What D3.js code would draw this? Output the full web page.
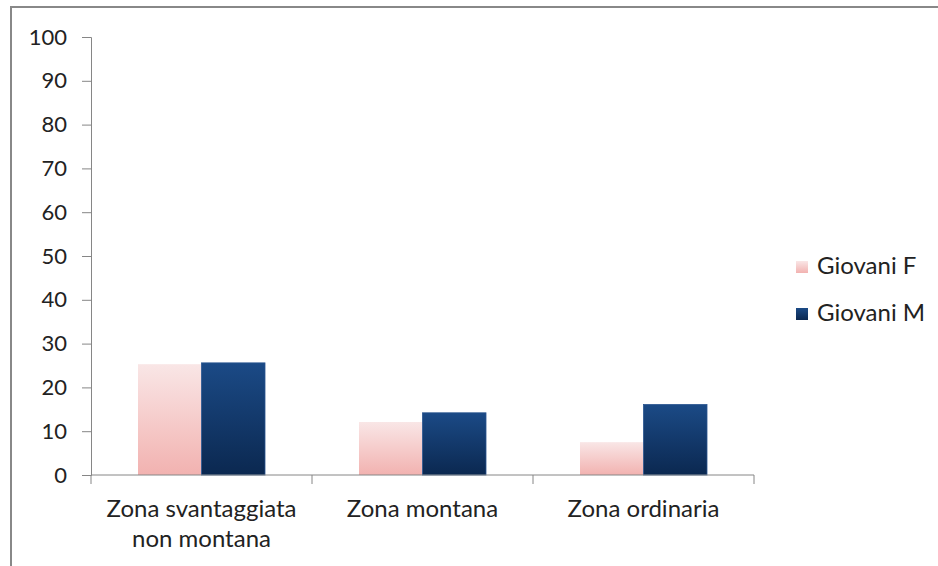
<!DOCTYPE html>
<meta charset="utf-8">
<script src="https://d3js.org/d3.v7.min.js"></script>
<style>
  body { margin: 0; background: #fff; }
  text { font-family: Lato, "Open Sans", sans-serif; fill: #222; }
</style>
<div id="chart"></div>
<script>
  // data
  const categories = [["Zona svantaggiata", "non montana"], ["Zona montana"], ["Zona ordinaria"]];
  const seriesNames = ["Giovani F", "Giovani M"];
  const giovaniF = [25.3, 12.1, 7.5];
  const giovaniM = [25.6, 14.2, 16.1];
  const yTicks = [0, 10, 20, 30, 40, 50, 60, 70, 80, 90, 100];

  const W = 938, H = 566;
  const plot = {left: 91, right: 754, top: 37, bottom: 475};

  const svg = d3.select("#chart").append("svg")
      .attr("width", W).attr("height", H);

  // outer chart frame
  svg.append("rect")
      .attr("x", 11).attr("y", 7)
      .attr("width", W + 10).attr("height", H + 10)
      .attr("fill", "none").attr("stroke", "#888").attr("stroke-width", 2);

  // gradients, one per series
  const defs = svg.append("defs");
  const grads = [
    {id: "gF", top: "#f9e6e6", bottom: "#f2b2b0"},
    {id: "gM", top: "#1b4a86", bottom: "#0b2850"}
  ];
  grads.forEach(g => {
    const lg = defs.append("linearGradient").attr("id", g.id)
        .attr("x1", 0).attr("y1", 0).attr("x2", 0).attr("y2", 1);
    lg.append("stop").attr("offset", "0%").attr("stop-color", g.top);
    lg.append("stop").attr("offset", "100%").attr("stop-color", g.bottom);
  });

  const x = d3.scaleBand()
      .domain(d3.range(categories.length))
      .range([plot.left, plot.right]);
  const inner = d3.scaleBand()
      .domain(d3.range(seriesNames.length))
      .range([0, x.bandwidth()])
      .paddingOuter(0.74).paddingInner(0);
  const y = d3.scaleLinear().domain([0, 100]).range([plot.bottom, plot.top]);

  // y axis
  const yAxis = svg.append("g")
      .attr("transform", `translate(${plot.left},0)`)
      .call(d3.axisLeft(y).tickValues(yTicks).tickSize(9).tickPadding(15));
  yAxis.selectAll("line, path").attr("stroke", "#868686");
  yAxis.selectAll("text").style("font-size", "22px").attr("fill", "#222");

  // bars
  const series = [giovaniF, giovaniM];
  series.forEach((vals, si) => {
    svg.append("g").selectAll("rect")
      .data(vals)
      .join("rect")
        .attr("x", (d, i) => x(i) + inner(si))
        .attr("y", d => y(d))
        .attr("width", inner.bandwidth())
        .attr("height", d => y(0) - y(d))
        .attr("fill", `url(#${grads[si].id})`)
        .attr("stroke", si === 1 ? "#2a5590" : "none")
        .attr("stroke-width", si === 1 ? 0.8 : 0);
  });

  // x axis
  const xAxis = svg.append("g");
  xAxis.append("line")
      .attr("x1", plot.left).attr("x2", plot.right)
      .attr("y1", y(0)).attr("y2", y(0))
      .attr("stroke", "#868686");
  const bounds = d3.range(categories.length + 1).map(i => i < categories.length ? x(i) : x(i - 1) + x.bandwidth());
  xAxis.selectAll("line.tick").data(bounds).join("line")
      .attr("class", "tick")
      .attr("x1", d => d).attr("x2", d => d)
      .attr("y1", y(0)).attr("y2", y(0) + 9)
      .attr("stroke", "#868686");
  xAxis.selectAll("text.cat").data(categories).join("text")
      .attr("class", "cat")
      .attr("text-anchor", "middle")
      .style("font-size", "24px")
      .attr("x", (d, i) => x(i) + x.bandwidth() / 2)
      .attr("y", 517)
      .selectAll("tspan").data(d => d).join("tspan")
        .attr("x", function() { return this.parentNode.getAttribute("x"); })
        .attr("dy", (d, i) => i === 0 ? 0 : 30)
        .text(d => d);

  // legend
  const legend = svg.append("g").attr("transform", "translate(796,261)");
  seriesNames.forEach((name, i) => {
    const g = legend.append("g").attr("transform", `translate(0,${i * 47})`);
    g.append("rect").attr("width", 12).attr("height", 12)
      .attr("y", 0).attr("fill", `url(#${grads[i].id})`);
    g.append("text").attr("x", 21).attr("y", 13)
      .style("font-size", "24px").text(name);
  });
</script>
